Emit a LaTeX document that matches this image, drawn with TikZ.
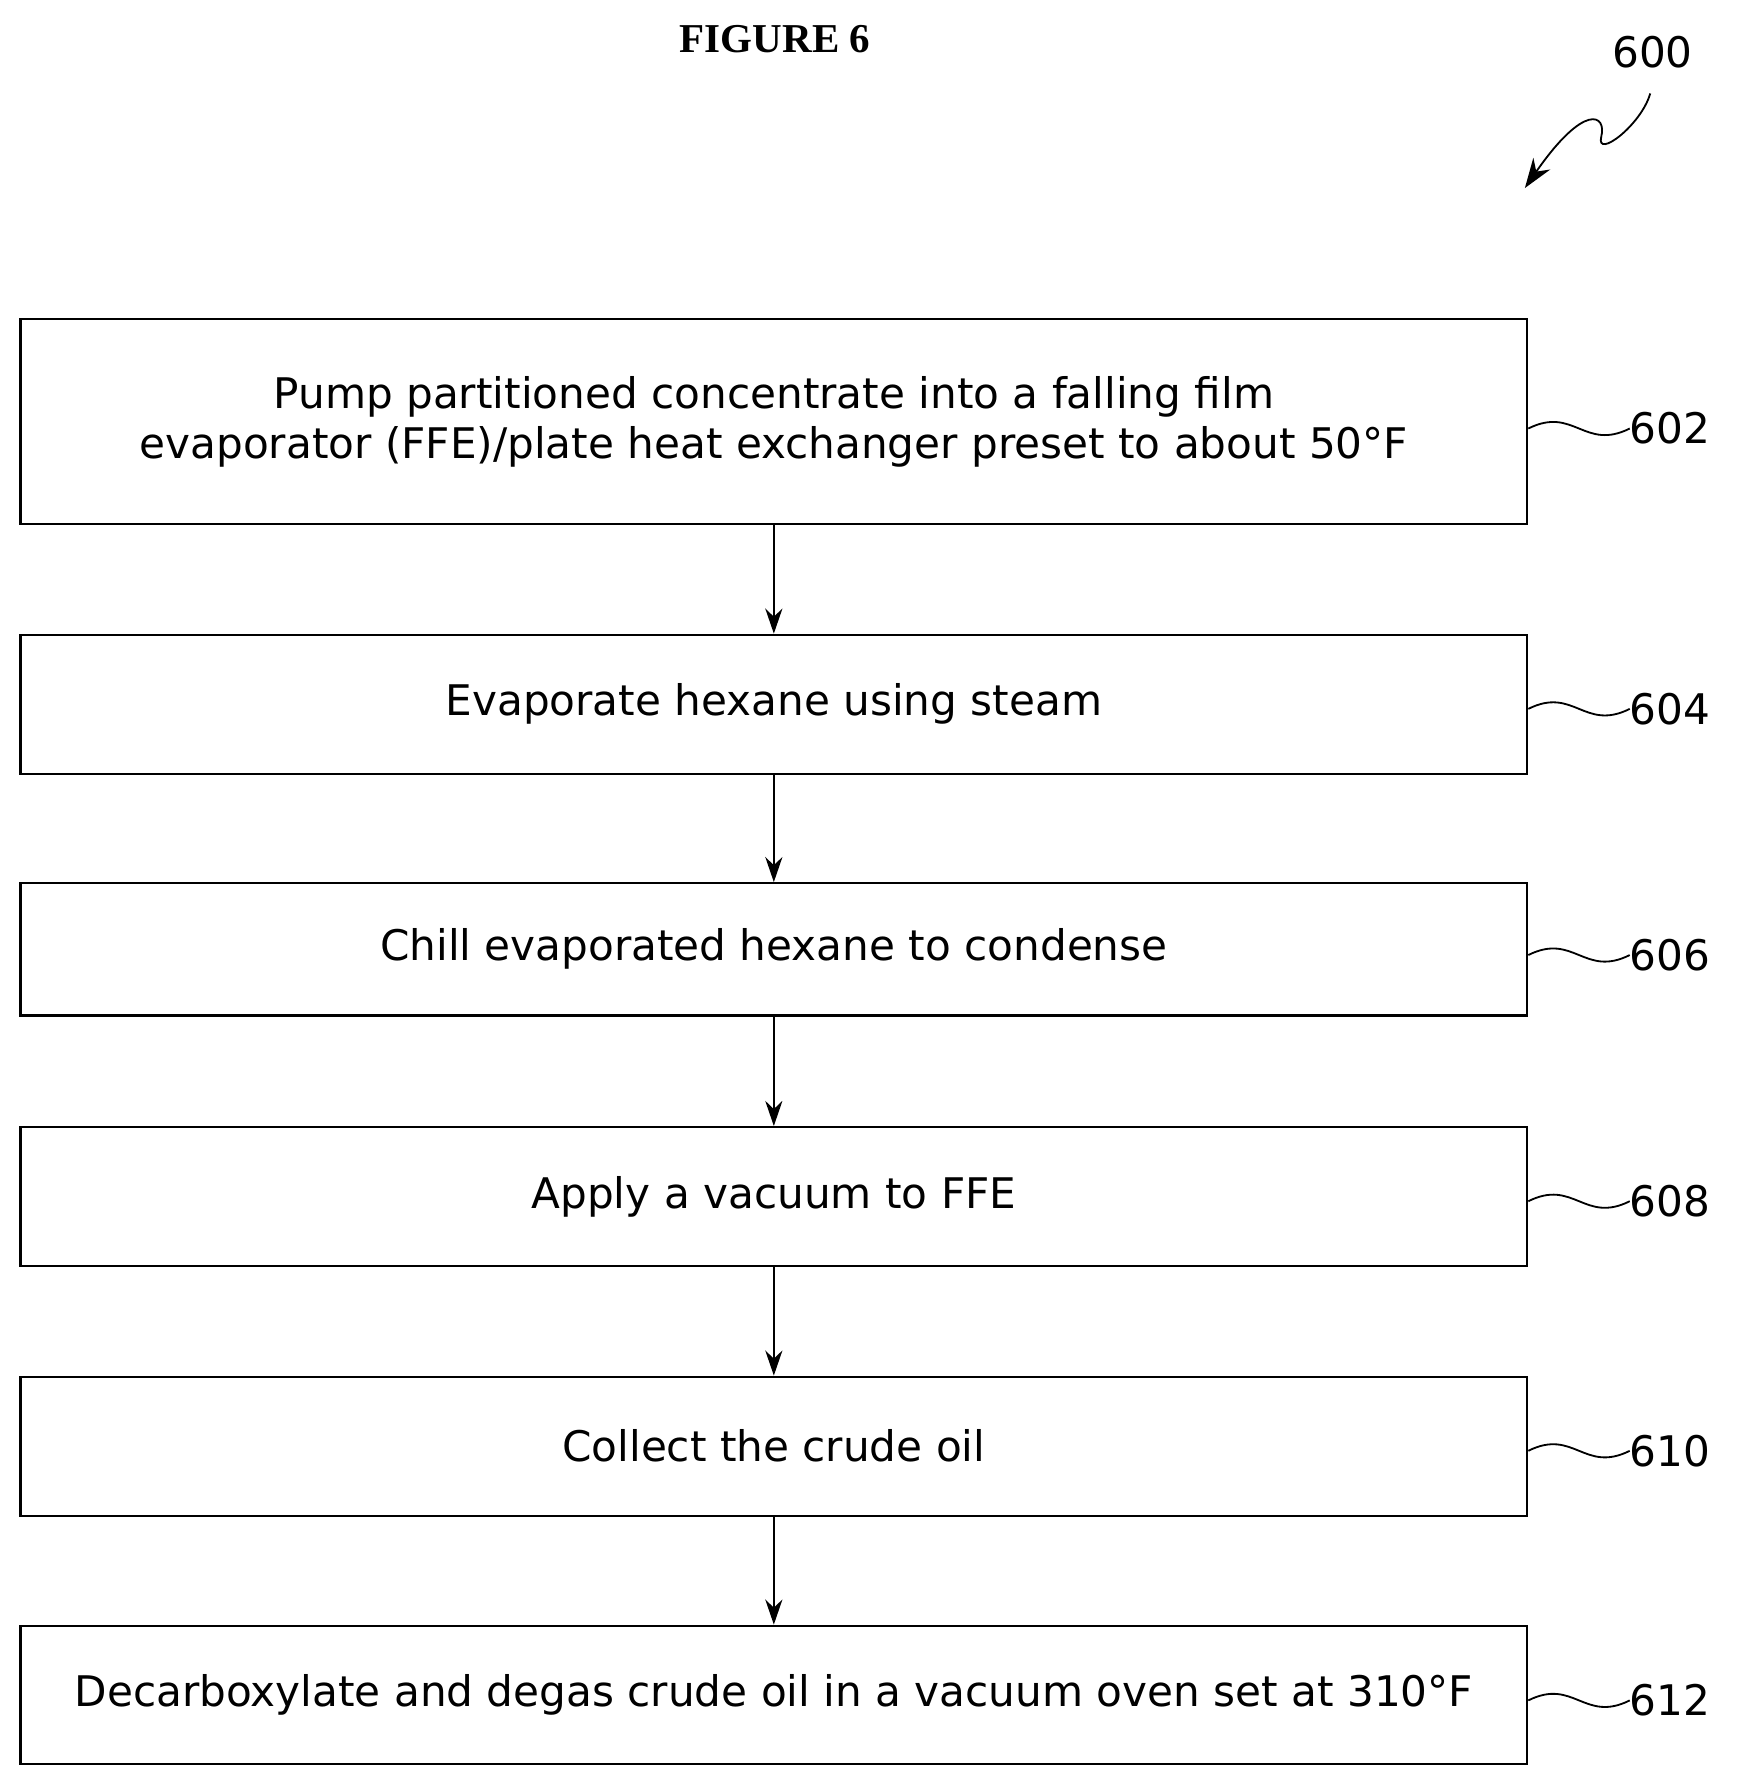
\documentclass[tikz,border=0pt]{standalone}
\usepackage{fontspec}
\setmainfont{DejaVu Sans}
\newfontfamily\titlefont{Liberation Serif}
\usetikzlibrary{arrows.meta}
\begin{document}
\begin{tikzpicture}[x=1pt,y=-1pt,
  stepbox/.style={draw,line width=2pt,minimum width=1322pt,inner sep=0pt,align=center,font=\fontsize{37}{44}\selectfont},
  conn/.style={line width=2pt,-{Stealth[length=22pt,width=15pt]}},
  lbl/.style={font=\fontsize{37}{44}\selectfont,anchor=west,inner sep=0pt},
  sq/.style={line width=1.6pt}]
\useasboundingbox (0,0) rectangle (1527,1568);
\node[font=\titlefont\bfseries\fontsize{36}{40}\selectfont] (title) at (680,34) {FIGURE 6};
\node[font=\fontsize{37}{44}\selectfont] (n600) at (1450,46) {600};
\coordinate (s0) at (1448,82);
\coordinate (s1) at (1338,165);
\draw[sq,-{Stealth[length=26pt,width=18pt]}] (s0) .. controls (1440,110) and (1400,140) .. (1405,120) .. controls (1410,100) and (1390,90) .. (s1);
\node[stepbox,minimum height=180pt] (b1) at (679,370) {Pump partitioned concentrate into a falling film\\evaporator (FFE)/plate heat exchanger preset to about 50°F};
\node[stepbox,minimum height=122pt] (b2) at (679,618) {Evaporate hexane using steam};
\node[stepbox,minimum height=116pt] (b3) at (679,833) {Chill evaporated hexane to condense};
\node[stepbox,minimum height=122pt] (b4) at (679,1050) {Apply a vacuum to FFE};
\node[stepbox,minimum height=122pt] (b5) at (679,1269) {Collect the crude oil};
\node[stepbox,minimum height=121pt] (b6) at (679,1487) {Decarboxylate and degas crude oil in a vacuum oven set at 310°F};
\foreach \a/\b in {b1/b2,b2/b3,b3/b4,b4/b5,b5/b6}{\draw[conn] (\a.south) -- (\b.north);}
\foreach \b/\t/\y in {b1/602/376,b2/604/622,b3/606/838,b4/608/1054,b5/610/1273,b6/612/1492}{
  \node[lbl] (l\t) at (1430,\y) {\t};
  \draw[sq] (\b.east |- l\t.west) .. controls +(40,-20) and +(-40,20) .. (l\t.west);
}
\end{tikzpicture}
\end{document}
